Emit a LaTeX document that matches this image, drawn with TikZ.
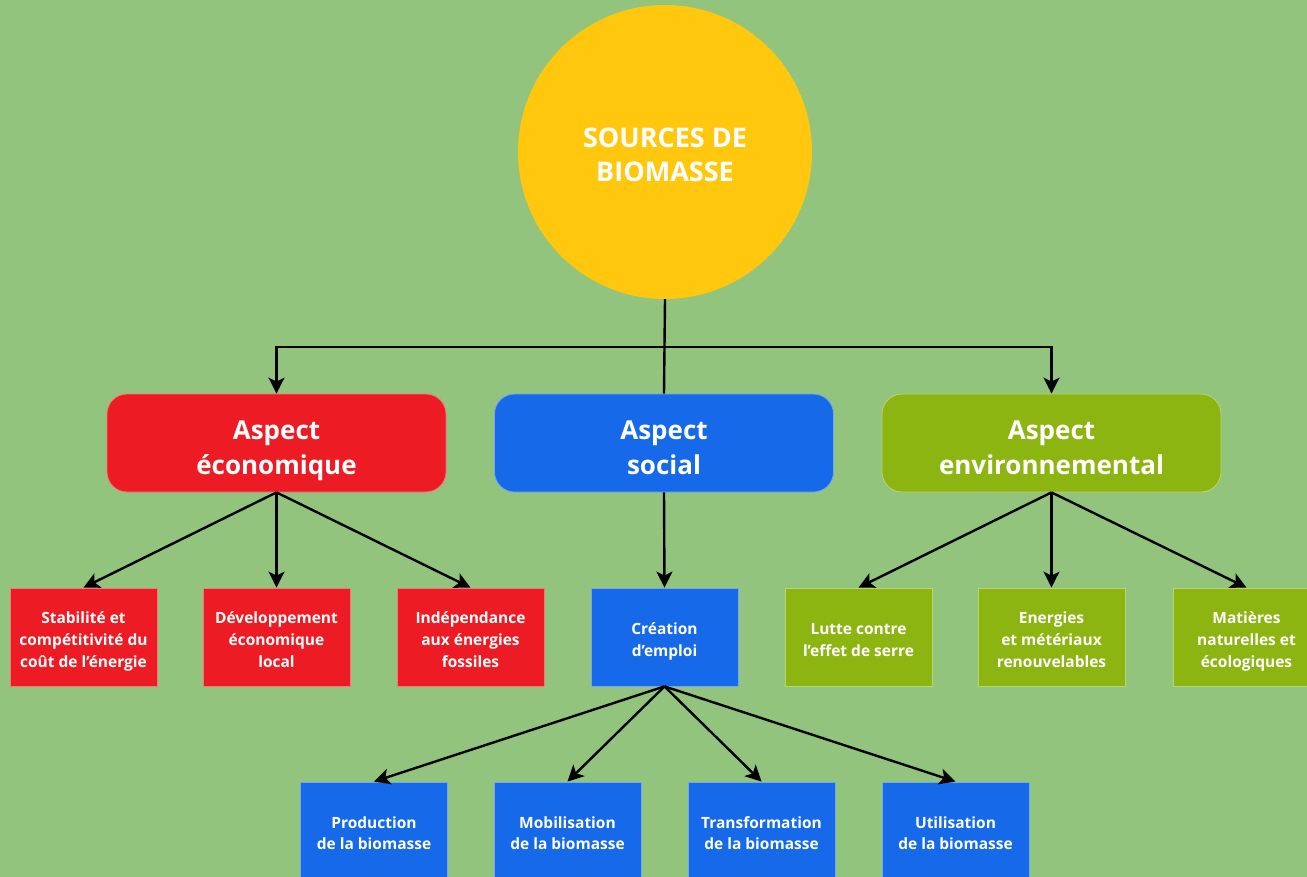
\documentclass[tikz,border=0pt]{standalone}
\usepackage{fontspec}
\setmainfont{Open Sans}
\usepackage{tikz}
\usetikzlibrary{arrows.meta}
\definecolor{bggreen}{RGB}{147,196,126}
\definecolor{sunyellow}{RGB}{255,200,14}
\definecolor{ecored}{RGB}{237,28,36}
\definecolor{socblue}{RGB}{22,105,232}
\definecolor{envgreen}{RGB}{141,181,18}
\newcommand{\boxtop}{\rule{0pt}{1.45em}}
\newcommand{\boxbot}{\rule[-0.4em]{0pt}{0pt}}

\begin{document}
\begin{tikzpicture}[x=1pt,y=-1pt,
    conn/.style={line width=2.4pt, black},
    arr/.style={conn, -{Stealth[length=16pt,width=16pt,inset=4pt]}},
    aspect/.style={rounded corners=20pt, minimum width=339pt, minimum height=98pt,
        inner sep=0pt, align=center, text=white,
        font=\bfseries\fontsize{26}{35}\selectfont},
    item/.style={minimum width=147pt, minimum height=98pt, inner sep=0pt,
        align=center, text=white, font=\bfseries\fontsize{15.5}{22}\selectfont},
    ecobox/.style={aspect, fill=ecored, draw=ecored!60!white, line width=0.8pt},
    socbox/.style={aspect, fill=socblue, draw=socblue!60!white, line width=0.8pt},
    envbox/.style={aspect, fill=envgreen, draw=envgreen!60!white, line width=0.8pt},
    ecoitem/.style={item, fill=ecored, draw=ecored!60!white, line width=0.8pt},
    socitem/.style={item, fill=socblue, draw=socblue!60!white, line width=0.8pt},
    enveitem/.style={item, fill=envgreen, draw=envgreen!60!white, line width=0.8pt},
    bioitem/.style={socitem, font=\bfseries\fontsize{15.5}{21}\selectfont}]
    \fill[bggreen] (0,0) rectangle (1307,877);
    \useasboundingbox (0,0) rectangle (1307,877);

    \node[circle, fill=sunyellow, minimum size=294pt, inner sep=0pt, align=center,
        text=white, font=\bfseries\fontsize{27}{34}\selectfont] (src) at (665,152)
        {\rule{0pt}{32.4pt}SOURCES DE\\BIOMASSE\rule[-8pt]{0pt}{0pt}};

    \node[ecobox] (eco) at (276.5,443) {\boxtop Aspect\\économique\boxbot};
    \node[socbox] (soc) at (664,443) {\boxtop Aspect\\social\boxbot};
    \node[envbox] (env) at (1051.5,443) {\boxtop Aspect\\environnemental\boxbot};

    \node[ecoitem] (eco1) at (83.5,637) {\boxtop Stabilité et\\compétitivité du\\coût de l'énergie\boxbot};
    \node[ecoitem] (eco2) at (276.5,637) {\boxtop Développement\\économique\\local\boxbot};
    \node[ecoitem] (eco3) at (470.5,637) {\boxtop Indépendance\\aux énergies\\fossiles\boxbot};
    \node[socitem] (soc1) at (664.5,637) {\boxtop Création\\d'emploi\boxbot};
    \node[enveitem] (env1) at (858.5,637) {\boxtop Lutte contre\\l'effet de serre\boxbot};
    \node[enveitem] (env2) at (1051.5,637) {\boxtop Energies\\et métériaux\\renouvelables\boxbot};
    \node[enveitem] (env3) at (1246.5,637) {\boxtop Matières\\naturelles et\\écologiques\boxbot};

    \node[bioitem] (bio1) at (374,831) {\boxtop Production\\de la biomasse\boxbot};
    \node[bioitem] (bio2) at (567.5,831) {\boxtop Mobilisation\\de la biomasse\boxbot};
    \node[bioitem] (bio3) at (761.5,831) {\boxtop Transformation\\de la biomasse\boxbot};
    \node[bioitem] (bio4) at (955.5,831) {\boxtop Utilisation\\de la biomasse\boxbot};

    \coordinate (fork) at (665,347);
    \draw[conn] (src.south) -- (soc.north);
    \draw[arr] (fork) -| (eco.north);
    \draw[arr] (fork) -| (env.north);

    \draw[arr] (eco.south) -- (eco1.north);
    \draw[arr] (eco.south) -- (eco2.north);
    \draw[arr] (eco.south) -- (eco3.north);
    \draw[arr] (soc.south) -- (soc1.north);
    \draw[arr] (env.south) -- (env1.north);
    \draw[arr] (env.south) -- (env2.north);
    \draw[arr] (env.south) -- (env3.north);

    \draw[arr] (soc1.south) -- (bio1.north);
    \draw[arr] (soc1.south) -- (bio2.north);
    \draw[arr] (soc1.south) -- (bio3.north);
    \draw[arr] (soc1.south) -- (bio4.north);
\end{tikzpicture}
\end{document}
